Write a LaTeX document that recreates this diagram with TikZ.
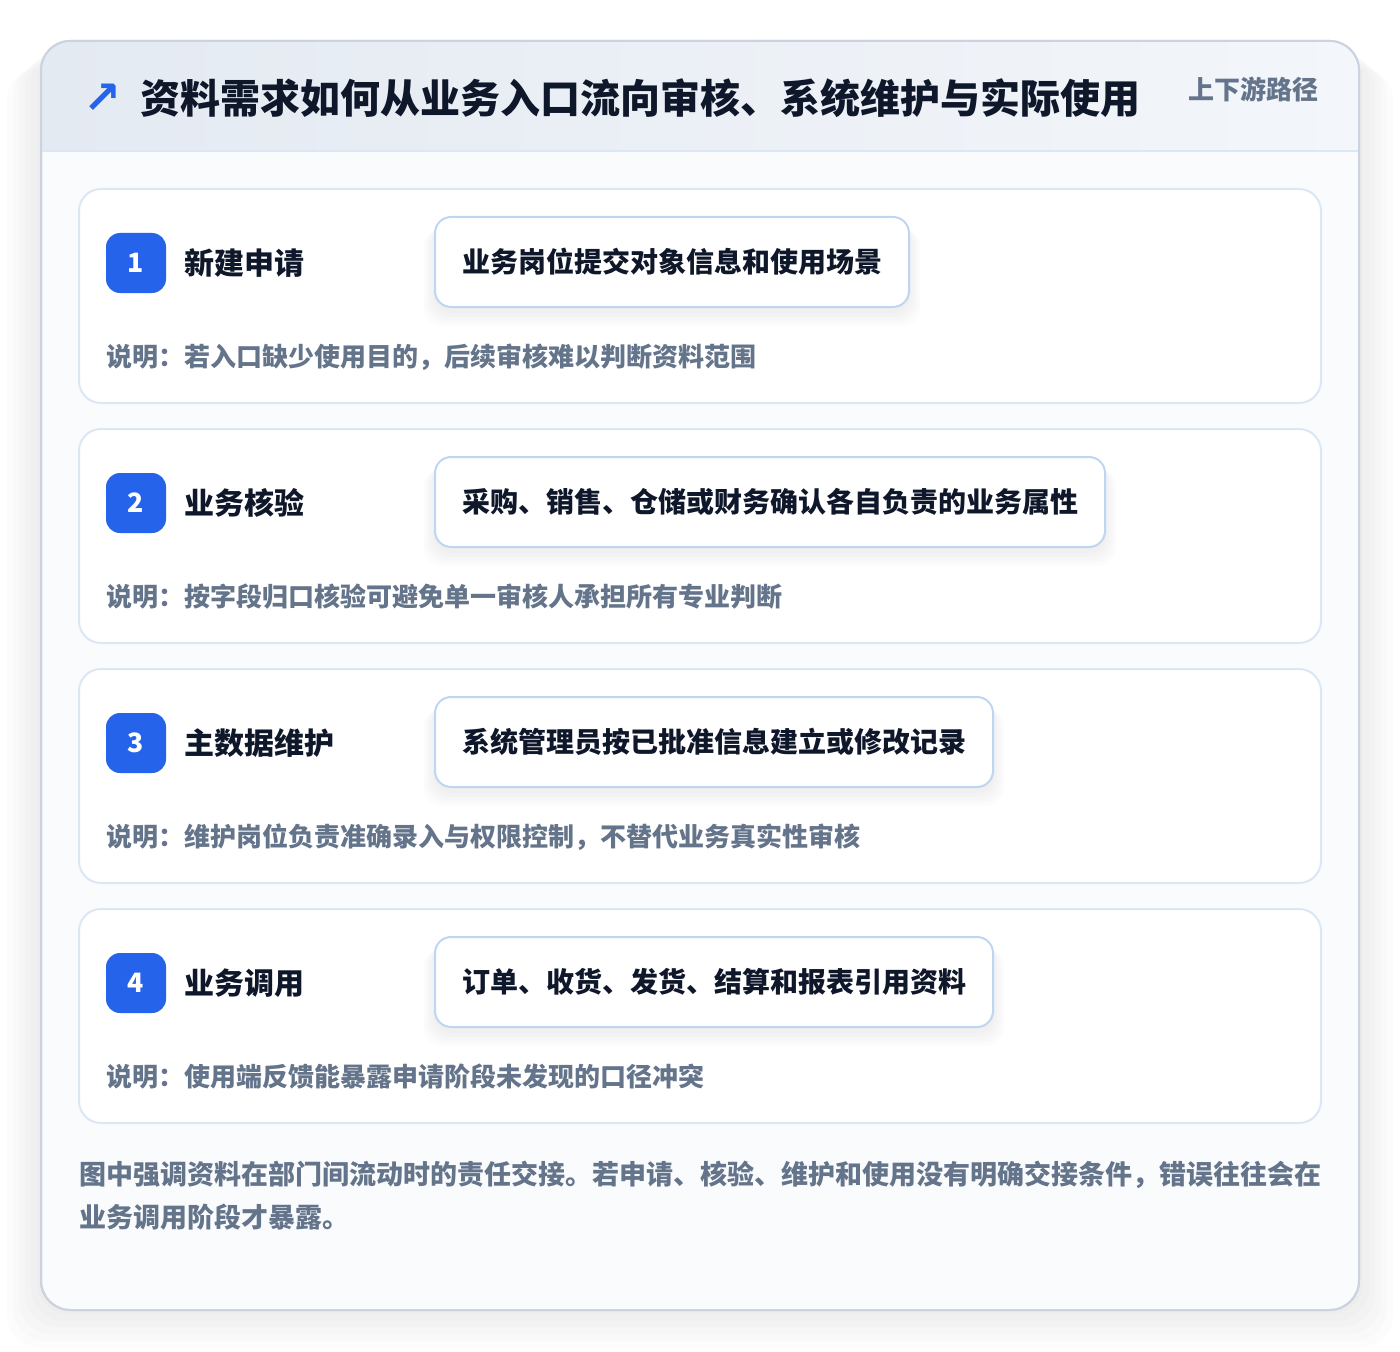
\documentclass[tikz,border=0pt]{standalone}
\usepackage{fontspec}
\setmainfont{Noto Sans CJK SC}
\newfontfamily\symf{DejaVu Sans}
\definecolor{ink}{HTML}{0F172A}
\definecolor{muted}{HTML}{64748B}
\definecolor{accent}{HTML}{2563EB}
\definecolor{cardline}{HTML}{DCE7F5}
\definecolor{boxline}{HTML}{BFD6F2}
\definecolor{outline}{HTML}{CBD3E0}
\definecolor{headl}{HTML}{E4EAF2}
\definecolor{headr}{HTML}{F3F6FA}
\definecolor{panel}{HTML}{FAFBFD}
\begin{document}
\begin{tikzpicture}[x=0.75pt,y=-0.75pt,
  card/.style={draw=cardline,line width=1.5pt,rounded corners=16.5pt,fill=white,minimum width=931.5pt,minimum height=160.5pt,inner sep=0pt},
  badge/.style={fill=accent,rounded corners=10.5pt,minimum width=45pt,minimum height=45pt,inner sep=0pt,text=white,font=\fontsize{20pt}{22pt}\selectfont\bfseries},
  stitle/.style={anchor=west,inner sep=0pt,text=ink,font=\fontsize{22.5pt}{26pt}\selectfont\bfseries},
  actbox/.style={draw=boxline,line width=1.5pt,rounded corners=12pt,fill=white,minimum height=67.5pt,inner sep=0pt,text=ink,font=\fontsize{21pt}{24pt}\selectfont\bfseries},
  note/.style={anchor=west,inner sep=0pt,text=muted,font=\fontsize{19.5pt}{24pt}\selectfont\bfseries},
  foot/.style={anchor=west,inner sep=0pt,text=muted,font=\fontsize{20.25pt}{24pt}\selectfont\bfseries}]
\useasboundingbox (0,0) rectangle (1400,1352);
\fill[white] (0,0) rectangle (1400,1352);
% outer shadow
\foreach \i in {4,10,16,22,28,34}{
  \fill[black,opacity=0.011,rounded corners=24pt] (41-\i,41+\i*0.8) rectangle (1359+\i,1310+\i*1.1);
}
% outer card
\node[draw=outline,line width=1.5pt,rounded corners=22pt,fill=panel,minimum width=988.5pt,minimum height=951.75pt,inner sep=0pt] (outer) at (700,675.5) {};
\begin{scope}
  \clip[rounded corners=22pt] (41,41) rectangle (1359,1310);
  \shade[left color=headl,right color=headr] (41,41) rectangle (1359,151);
\end{scope}
\draw[draw=cardline,line width=1.5pt] (42,151) -- (1358,151);
\draw[draw=outline,line width=1.5pt,rounded corners=22pt] (41,41) rectangle (1359,1310);
% header
\node[text=accent,inner sep=0pt,font=\symf\bfseries\fontsize{34pt}{36pt}\selectfont] (arrow) at (102,99) {↗};
\node[anchor=west,inner sep=0pt,text=ink,font=\fontsize{30pt}{34pt}\selectfont\bfseries] (title) at (140,98) {资料需求如何从业务入口流向审核、系统维护与实际使用};
\node[inner sep=0pt,text=muted,font=\fontsize{19.5pt}{22pt}\selectfont\bfseries] (tag) at (1253,89) {上下游路径};
% steps
\foreach \n/\t/\c/\w/\d/\nt in {
  1/189/新建申请/474/业务岗位提交对象信息和使用场景/说明：若入口缺少使用目的，后续审核难以判断资料范围,
  2/429/业务核验/670/采购、销售、仓储或财务确认各自负责的业务属性/说明：按字段归口核验可避免单一审核人承担所有专业判断,
  3/669/主数据维护/558/系统管理员按已批准信息建立或修改记录/说明：维护岗位负责准确录入与权限控制，不替代业务真实性审核,
  4/909/业务调用/558/订单、收货、发货、结算和报表引用资料/说明：使用端反馈能暴露申请阶段未发现的口径冲突}{
  \node[card] (card\n) at (700,\t+107) {};
  \node[badge] (badge\n) at (136,\t+74) {\n};
  \node[stitle] (stitle\n) at (184,\t+74) {\c};
  \foreach \k in {3,7,11,15,19}{
    \fill[black,opacity=0.012,rounded corners=14pt] (435-\k*0.6,\t+34+\k*0.3) rectangle (435+\w+\k*0.6,\t+122+\k*0.8);
  }
  \node[actbox,minimum width=\w*0.75pt] (box\n) at (435+\w/2,\t+73) {\d};
  \node[note] (note\n) at (106,\t+168) {\nt};
}
% footer
\node[foot] (foot1) at (79,1175) {图中强调资料在部门间流动时的责任交接。若申请、核验、维护和使用没有明确交接条件，错误往往会在};
\node[foot] (foot2) at (79,1217) {业务调用阶段才暴露。};
\end{tikzpicture}
\end{document}
